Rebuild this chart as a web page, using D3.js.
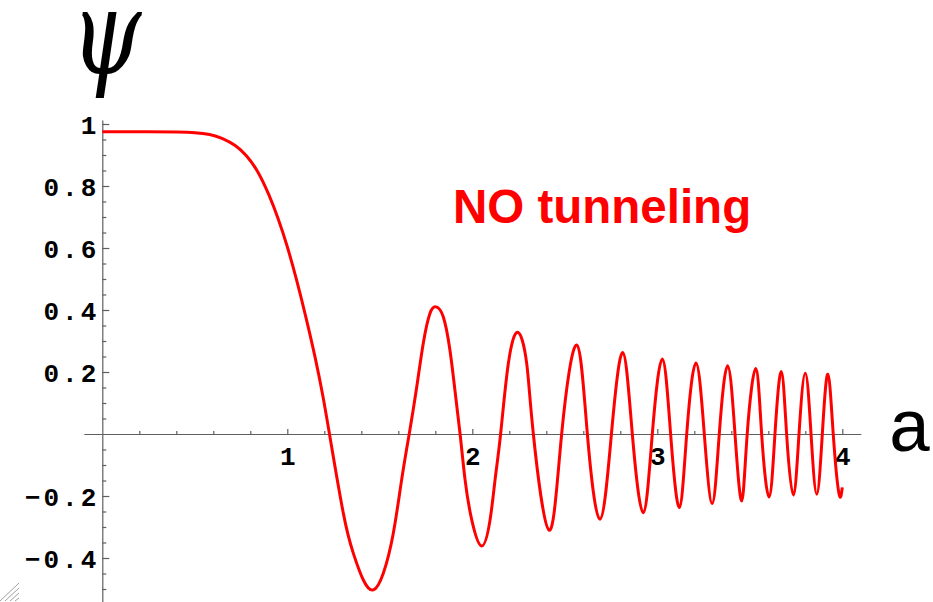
<!DOCTYPE html>
<html>
<head>
<meta charset="utf-8">
<script src="https://cdn.jsdelivr.net/npm/d3@7"></script>
<style>
  html, body { margin: 0; padding: 0; background: #fff; }
  svg { display: block; }
</style>
</head>
<body>
<svg id="chart" width="933" height="602"></svg>
<script>
// Wavefunction samples: scale factor a and amplitude psi
const aValues = [
  0, 0.2, 0.4, 0.5, 0.58, 0.65, 0.72, 0.78, 0.84, 0.90,
  0.95, 1.00, 1.05, 1.10, 1.15, 1.19, 1.228, 1.303, 1.357, 1.411,
  1.465, 1.519, 1.573, 1.618, 1.659, 1.700, 1.735, 1.771, 1.804, 1.843,
  1.879, 1.906, 1.934, 1.961, 1.997, 2.051, 2.096, 2.123, 2.153, 2.195,
  2.247, 2.294, 2.330, 2.415, 2.483, 2.564, 2.622, 2.690, 2.752, 2.813,
  2.865, 2.924, 2.973, 3.027, 3.072, 3.119, 3.159, 3.209, 3.254, 3.297,
  3.335, 3.380, 3.420, 3.456, 3.486, 3.532, 3.564, 3.604, 3.636, 3.670,
  3.699, 3.735, 3.766, 3.800, 3.831, 3.862, 3.892, 3.922, 3.951, 3.982,
  4.000
];
const psiValues = [
  0.975, 0.975, 0.974, 0.972, 0.966, 0.953, 0.930, 0.897, 0.846, 0.772,
  0.695, 0.604, 0.497, 0.378, 0.248, 0.130, 0, -0.256, -0.385, -0.471,
  -0.503, -0.449, -0.320, -0.148, 0, 0.153, 0.293, 0.389, 0.410, 0.378,
  0.271, 0.142, 0, -0.148, -0.277, -0.361, -0.277, -0.148, 0, 0.228,
  0.328, 0.228, 0, -0.310, 0, 0.287, 0, -0.275, 0, 0.263,
  0, -0.254, 0, 0.242, 0, -0.237, 0, 0.229, 0, -0.224,
  0, 0.220, 0, -0.216, 0, 0.211, 0, -0.203, 0, 0.202,
  0, -0.197, 0, 0.196, 0, -0.194, 0, 0.193, 0, -0.192,
  -0.172
];

// Axis ticks
const xTicks = [1, 2, 3, 4];
const xTickLabels = ["1", "2", "3", "4"];
const xMinorTicks = [0.2, 0.4, 0.6, 0.8, 1.2, 1.4, 1.6, 1.8, 2.2, 2.4, 2.6, 2.8, 3.2, 3.4, 3.6, 3.8];
const yTicks = [-0.4, -0.2, 0.2, 0.4, 0.6, 0.8, 1];
const yTickLabels = ["\u22120.4", "\u22120.2", "0.2", "0.4", "0.6", "0.8", "1"];
const yMinorTicks = [-0.55, -0.5, -0.45, -0.35, -0.3, -0.25, -0.15, -0.1, -0.05,
  0.05, 0.1, 0.15, 0.25, 0.3, 0.35, 0.45, 0.5, 0.55, 0.65, 0.7, 0.75, 0.85, 0.9, 0.95];

const xLabel = "a";
const yLabel = "\u03C8";
const annotation = "NO tunneling";

const svg = d3.select("#chart");
const x = d3.scaleLinear().domain([0, 4]).range([102.3, 842.3]);
const y = d3.scaleLinear().domain([0, 1]).range([434, 124]);

const axisColor = "#5f5f5f";
const monoFont = "'Liberation Mono', 'Courier New', monospace";

// Axis lines extend slightly past the data range
const xAxisScale = x.copy().domain([-0.1, 4.1]).range([x(-0.1), x(4.1)]);
const yAxisScale = y.copy().domain([-0.56, 1.013]).range([y(-0.56), y(1.013)]);

// x axis: ticks point up, labels below
const gx = svg.append("g").attr("transform", `translate(0,${y(0)})`);
gx.call(d3.axisBottom(xAxisScale).tickValues(xTicks).tickSize(-5).tickSizeOuter(0)
  .tickPadding(13).tickFormat((d, i) => xTickLabels[i]));
gx.append("g").call(d3.axisBottom(xAxisScale).tickValues(xMinorTicks).tickSize(-3)
  .tickSizeOuter(0).tickFormat(""))
  .select(".domain").remove();

// y axis: ticks point right, labels left
const gy = svg.append("g").attr("transform", `translate(${x(0)},0)`);
gy.call(d3.axisLeft(yAxisScale).tickValues(yTicks).tickSize(-7).tickSizeOuter(0)
  .tickPadding(3).tickFormat((d, i) => yTickLabels[i]));
gy.append("g").call(d3.axisLeft(yAxisScale).tickValues(yMinorTicks).tickSize(-4)
  .tickSizeOuter(0).tickFormat(""))
  .select(".domain").remove();

svg.selectAll(".domain, .tick line").attr("stroke", axisColor).attr("stroke-width", 1.2);
svg.selectAll(".tick text").attr("fill", "#000")
  .style("font-family", monoFont).style("font-size", "26px").style("font-weight", "bold");
gy.selectAll(".tick text").style("letter-spacing", "3px").attr("dy", "0.36em");

// Wavefunction curve
const pts = aValues.map((a, i) => [a, psiValues[i]]);
const line = d3.line().x(d => x(d[0])).y(d => y(d[1])).curve(d3.curveNatural);
svg.append("path").datum(pts)
  .attr("d", line)
  .attr("fill", "none")
  .attr("stroke", "#ff0000")
  .attr("stroke-width", 3)
  .attr("stroke-linejoin", "round");

// Axis titles: tall italic psi over the value axis
svg.append("text").text(yLabel)
  .attr("transform", "translate(106,73) scale(1,1.3)")
  .attr("text-anchor", "middle")
  .style("font-family", "'DejaVu Serif', serif")
  .style("font-style", "italic")
  .style("font-size", "90px")
  .attr("fill", "#000");

svg.append("text").text(xLabel)
  .attr("x", 910).attr("y", 451)
  .attr("text-anchor", "middle")
  .style("font-family", monoFont)
  .style("font-size", "74px")
  .attr("fill", "#000");

// Annotation
svg.append("text").text(annotation)
  .attr("x", 453).attr("y", 223)
  .style("font-family", "'Liberation Sans', Arial, sans-serif")
  .style("font-weight", "bold")
  .style("font-size", "47.5px")
  .attr("fill", "#ff0000");

// Window resize grip in the corner
const grip = svg.append("g").attr("stroke", "#a0a0a0").attr("stroke-width", 1);
[0, 5, 10, 15].forEach(k => {
  grip.append("line").attr("x1", k).attr("y1", 601)
    .attr("x2", 19).attr("y2", 583 + k);
});
</script>
</body>
</html>
